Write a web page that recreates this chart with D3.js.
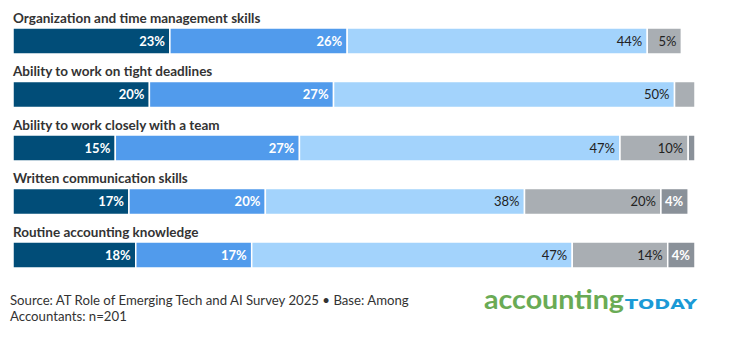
<!DOCTYPE html>
<html><head><meta charset="utf-8">
<script src="https://cdn.jsdelivr.net/npm/d3@7"></script>
<style>body{margin:0;background:#fff;font-family:Lato,sans-serif}</style>
</head><body><svg id="c" width="733" height="341"></svg>
<script>
const categories = ["Organization and time management skills","Ability to work on tight deadlines","Ability to work closely with a team","Written communication skills","Routine accounting knowledge"];
const s1 = [23,20,15,17,18];
const s2 = [26,27,27,20,17];
const s3 = [44,50,47,38,47];
const s4 = [5,3,10,20,14];
const s5 = [0,0,1,4,4];
const series = [s1,s2,s3,s4,s5];
const colors = ["#014d78","#519bec","#a3d3fc","#a9aeb3","#8a9199"];
const textColors = ["#fff","#fff","#222","#222","#fff"];
const textWeights = [700,700,400,400,700];
const footer = ["Source: AT Role of Emerging Tech and AI Survey 2025 \u2022 Base: Among","Accountants: n=201"];

const svg = d3.select("#c");
const x = d3.scaleLinear().domain([0,100]).range([13,695]);
const y = d3.scaleBand().domain(categories).range([28,268]).paddingInner(0.514).paddingOuter(0);

const rows = svg.selectAll("g.row").data(categories).join("g").attr("class","row");
rows.append("text").attr("x",13).attr("y",c=>y(c)-5)
  .attr("font-size",13.5).attr("font-weight",700).attr("fill","#333").text(c=>c);

categories.forEach((c,i)=>{
  let cum=0;
  series.forEach((s,k)=>{
    const v=s[i]; if(!v) return;
    const x0=x(cum), x1=x(cum+v); cum+=v;
    svg.append("rect").attr("x",x0).attr("y",y(c)).attr("width",x1-x0).attr("height",y.bandwidth())
      .attr("fill",colors[k]).attr("stroke","#fff").attr("stroke-width",1.5);
    if(v>=4){
      svg.append("text").attr("x",x1-5).attr("y",y(c)+y.bandwidth()/2).attr("dy","0.35em")
        .attr("text-anchor","end").attr("font-size",13).attr("font-weight",textWeights[k])
        .attr("fill",textColors[k]).text(v+"%");
    }
  });
});

svg.selectAll("text.foot").data(footer).join("text").attr("class","foot")
  .attr("x",10).attr("y",(d,i)=>305+i*16).attr("font-size",13.2).attr("fill","#333").text(d=>d);

svg.append("text").attr("x",484).attr("y",309).attr("font-family","Lato").attr("font-weight",700)
  .attr("font-size",27).attr("fill","#6aab55").attr("textLength",140).attr("lengthAdjust","spacingAndGlyphs").text("accounting");
svg.append("text").attr("x",625).attr("y",309).attr("font-family","DejaVu Sans").attr("font-weight",700)
  .attr("font-size",14).attr("fill","#1b9ad6").attr("textLength",72).attr("lengthAdjust","spacingAndGlyphs").text("TODAY");
</script></body></html>
